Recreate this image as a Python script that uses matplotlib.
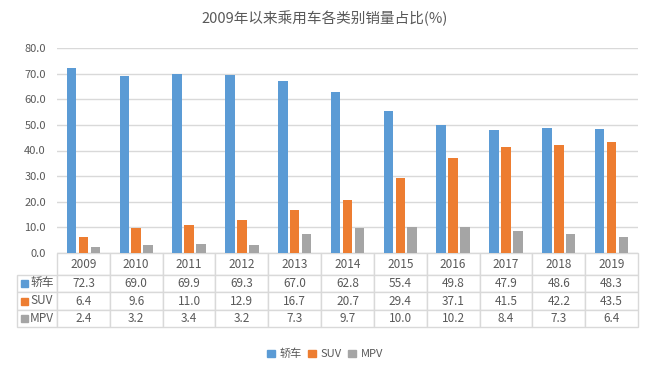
import matplotlib.pyplot as plt
from matplotlib.patches import Rectangle
import numpy as np

plt.rcParams['font.family'] = ['Noto Sans CJK SC', 'DejaVu Sans']

years = ['2009', '2010', '2011', '2012', '2013', '2014', '2015', '2016', '2017', '2018', '2019']
series_names = ['轿车', 'SUV', 'MPV']
sedan = [72.3, 69.0, 69.9, 69.3, 67.0, 62.8, 55.4, 49.8, 47.9, 48.6, 48.3]
suv = [6.4, 9.6, 11.0, 12.9, 16.7, 20.7, 29.4, 37.1, 41.5, 42.2, 43.5]
mpv = [2.4, 3.2, 3.4, 3.2, 7.3, 9.7, 10.0, 10.2, 8.4, 7.3, 6.4]

colors = ['#5B9BD5', '#ED7D31', '#A5A5A5']
text_c = '#595959'
grid_c = '#D9D9D9'

fig = plt.figure(figsize=(6.5, 3.72), dpi=100)
ax = fig.add_axes([57 / 650, 1 - 253 / 372, 581 / 650, 205 / 372])

x = np.arange(len(years))
w = 0.18
off = 0.225
for i, vals in enumerate([sedan, suv, mpv]):
    ax.bar(x + (i - 1) * off, vals, w, color=colors[i], label=series_names[i], zorder=3)

ax.set_xlim(-0.5, len(years) - 0.5)
ax.set_ylim(0, 80)
ax.set_yticks(np.arange(0, 81, 10))
ax.set_yticklabels([f'{v:.1f}' for v in np.arange(0, 81, 10)], color=text_c, fontsize=8)
ax.tick_params(axis='y', length=0, pad=8)
ax.set_xticks([])
ax.grid(axis='y', color=grid_c, linewidth=1, zorder=0)
for s in ax.spines.values():
    s.set_visible(False)

# data table below the bars (first column holds the row labels, drawn separately)
cell_text = [[''] + [f'{v:.1f}' for v in row] for row in [sedan, suv, mpv]]
tb = ax.table(cellText=cell_text, colLabels=[''] + years, cellLoc='center',
              colWidths=[40] + [581 / 11] * len(years),
              bbox=[-40 / 581, -74 / 205, 1 + 40 / 581, 74 / 205])
tb.auto_set_font_size(False)
for (r, c), cell in tb.get_celld().items():
    cell.set_edgecolor(grid_c)
    cell.set_linewidth(1)
    cell.get_text().set_color(text_c)
    cell.get_text().set_fontsize(8.5)
    cell.set_height(22 if r == 0 else 17.3)
    if r == 0 and c == 0:
        cell.visible_edges = ''

# row labels with colour keys
row_mid = [283.5, 301, 318.5]
for i, name in enumerate(series_names):
    yc = 1 - (row_mid[i] - 48) / 205
    ax.add_patch(Rectangle((-36 / 581, yc - 3.5 / 205), 7 / 581, 7 / 205,
                           transform=ax.transAxes, color=colors[i], clip_on=False))
    ax.text(-27 / 581, yc, name, transform=ax.transAxes, ha='left', va='center',
            fontsize=8.5, color=text_c)

fig.text(0.5, 1 - 18 / 372, '2009年以来乘用车各类别销量占比(%)', ha='center', va='center',
         fontsize=10.5, color=text_c)

handles = [Rectangle((0, 0), 1, 1, color=c) for c in colors]
leg = fig.legend(handles, series_names, loc='center', bbox_to_anchor=(0.5, 1 - 354 / 372),
                 ncol=3, frameon=False, fontsize=8, handlelength=0.7, handleheight=0.7,
                 handletextpad=0.4, columnspacing=0.6)
for t in leg.get_texts():
    t.set_color(text_c)

fig.savefig('out.png', dpi=100)
